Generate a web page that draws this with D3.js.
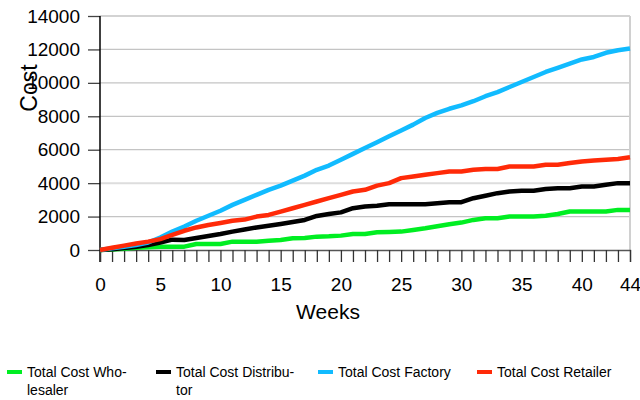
<!DOCTYPE html>
<html>
<head>
<meta charset="utf-8">
<script src="https://cdn.jsdelivr.net/npm/d3@7"></script>
<style>
  body { margin: 0; background: #fff; }
  text { font-family: "Liberation Sans", Arial, sans-serif; }
</style>
</head>
<body>
<div id="chart"></div>
<script>
// weeks 0..44
const weeks = d3.range(0, 45);
const yTicks = [0, 2000, 4000, 6000, 8000, 10000, 12000, 14000];
const xLabels = [0, 5, 10, 15, 20, 25, 30, 35, 40, 44];

const wholesaler = [0, 30, 80, 130, 160, 200, 200, 200, 360, 360, 360, 500, 500, 500, 560, 600, 700, 720, 800, 820, 860, 960, 960, 1060, 1080, 1100, 1200, 1300, 1420, 1540, 1640, 1800, 1900, 1900, 2000, 2000, 2000, 2050, 2150, 2300, 2300, 2300, 2300, 2400, 2400];
const distributor = [0, 50, 120, 200, 300, 450, 620, 600, 720, 840, 960, 1100, 1230, 1350, 1450, 1560, 1680, 1800, 2040, 2150, 2250, 2500, 2600, 2650, 2740, 2740, 2740, 2740, 2800, 2860, 2860, 3100, 3250, 3400, 3500, 3550, 3550, 3650, 3700, 3700, 3800, 3800, 3900, 4000, 4000];
const factory = [0, 100, 200, 300, 450, 750, 1100, 1400, 1750, 2050, 2350, 2700, 3000, 3300, 3600, 3850, 4150, 4450, 4800, 5050, 5400, 5750, 6100, 6450, 6800, 7150, 7500, 7900, 8200, 8450, 8650, 8900, 9200, 9450, 9750, 10050, 10350, 10650, 10900, 11150, 11400, 11550, 11800, 11950, 12050];
const retailer = [0, 130, 260, 390, 500, 650, 900, 1150, 1350, 1500, 1620, 1750, 1820, 2000, 2100, 2300, 2500, 2700, 2900, 3100, 3300, 3500, 3600, 3850, 4000, 4300, 4400, 4500, 4600, 4700, 4700, 4800, 4850, 4850, 5000, 5000, 5000, 5100, 5100, 5200, 5300, 5350, 5400, 5450, 5550];

const seriesNames = ["Total Cost Who-|lesaler", "Total Cost Distribu-|tor", "Total Cost Factory", "Total Cost Retailer"];
const seriesValues = [wholesaler, distributor, factory, retailer];
const colors = ["#00ee22", "#000000", "#11bbff", "#ff2a08"];

const margin = { top: 16, right: 10, bottom: 150, left: 100 },
    width = 530,
    height = 234;

const svg = d3.select("#chart")
    .append("svg")
    .attr("width", 640)
    .attr("height", 400)
    .append("g")
    .attr("transform", `translate(${margin.left},${margin.top})`);

const x = d3.scaleLinear().domain([0, 44]).range([0, width]);
const y = d3.scaleLinear().domain([0, 14000]).range([height, 0]);

// gridlines
svg.append("g")
    .selectAll("line")
    .data(yTicks.slice(1))
    .join("line")
    .attr("x1", 0).attr("x2", width)
    .attr("y1", d => y(d)).attr("y2", d => y(d))
    .attr("stroke", d => d === 4000 ? "#dddddd" : "#c4c4c4")
    .attr("stroke-width", d => d === 4000 ? 2 : 1.3);

// right border
svg.append("line")
    .attr("x1", width).attr("x2", width)
    .attr("y1", 0).attr("y2", height)
    .attr("stroke", "#d0d0d0").attr("stroke-width", 2);

// y axis
const yAxis = svg.append("g")
    .call(d3.axisLeft(y).tickValues(yTicks).tickSize(12).tickPadding(8).tickFormat(d3.format("d")));
yAxis.select(".domain").remove();
yAxis.selectAll(".tick line").attr("stroke", "#444").attr("stroke-width", 1.3);
yAxis.selectAll("text").attr("font-size", 19).attr("fill", "#000").style("font-family", "Liberation Sans, Arial");
svg.append("line")
    .attr("x1", 0).attr("x2", 0).attr("y1", 0).attr("y2", height + 12)
    .attr("stroke", "#000").attr("stroke-width", 1.5);

// x axis
const xAxis = svg.append("g")
    .attr("transform", `translate(0,${height})`)
    .call(d3.axisBottom(x).tickValues(weeks).tickSize(12).tickPadding(16)
        .tickFormat(d => xLabels.includes(d) ? d : ""));
xAxis.select(".domain").attr("stroke", "#555").attr("stroke-width", 1.3);
xAxis.selectAll(".tick line").attr("stroke", "#333").attr("stroke-width", 1.3);
xAxis.selectAll("text").attr("font-size", 19).attr("fill", "#000").style("font-family", "Liberation Sans, Arial");

// lines
const line = d3.line()
    .x((d, i) => x(weeks[i]))
    .y(d => y(d));

svg.selectAll(".series")
    .data(seriesValues)
    .join("path")
    .attr("class", "series")
    .attr("fill", "none")
    .attr("stroke", (d, i) => colors[i])
    .attr("stroke-width", 4.5)
    .attr("stroke-linejoin", "round")
    .attr("d", d => line(d));

// axis titles
svg.append("text")
    .attr("x", width / 2 - 37)
    .attr("y", 303)
    .attr("text-anchor", "middle")
    .attr("font-size", 21)
    .text("Weeks");

svg.append("text")
    .attr("transform", `translate(${37 - margin.left},${88 - margin.top}) rotate(-90)`)
    .attr("text-anchor", "middle")
    .attr("font-size", 23)
    .text("Cost");

// legend
const legendX = [7, 156, 318, 477];
const legend = d3.select("svg").append("g");
seriesNames.forEach((name, i) => {
    legend.append("rect")
        .attr("x", legendX[i]).attr("y", 370)
        .attr("width", 15).attr("height", 4)
        .attr("fill", colors[i]);
    const t = legend.append("text")
        .attr("x", legendX[i] + 20).attr("y", 377)
        .attr("font-size", 14);
    name.split("|").forEach((part, j) => {
        t.append("tspan")
            .attr("x", legendX[i] + 20)
            .attr("dy", j === 0 ? 0 : 18)
            .text(part);
    });
});
</script>
</body>
</html>
